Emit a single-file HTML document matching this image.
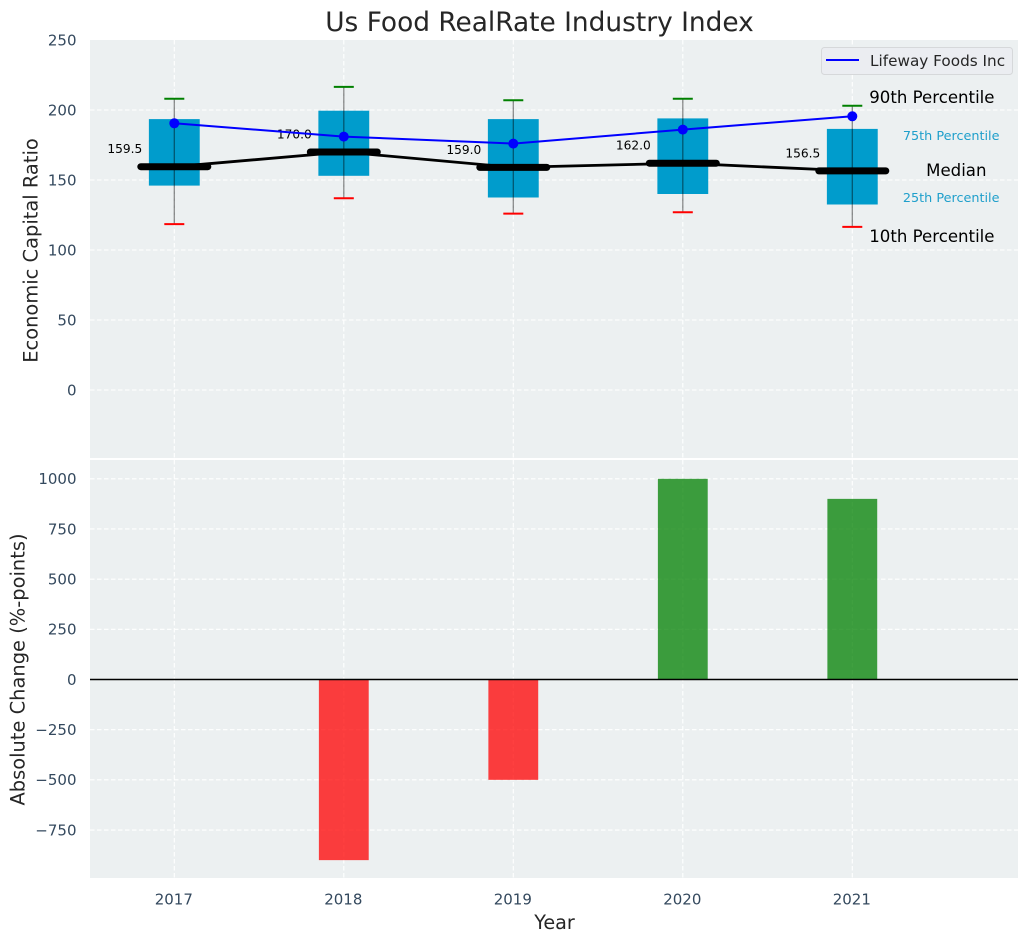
<!DOCTYPE html>
<html lang="en">
<head>
<meta charset="utf-8">
<title>Us Food RealRate Industry Index</title>
<style>
html,body{margin:0;padding:0;background:#fff;}
svg{display:block;font-family:"DejaVu Sans","Liberation Sans",sans-serif;}
</style>
</head>
<body>
<svg id="chart" width="1029" height="942" viewBox="0 0 1029 942" xmlns="http://www.w3.org/2000/svg">
  <rect x="0" y="0" width="1029" height="942" fill="#ffffff"/>
  <rect x="90" y="40" width="928" height="418" fill="#ecf0f1"/>
  <rect x="90" y="460" width="928" height="418" fill="#ecf0f1"/>
  <g id="grid"></g>
  <g id="bars"></g>
  <g id="boxes"></g>
  <g id="lines"></g>
  <g id="ticks"></g>
  <text x="539.5" y="31" font-size="26.4" fill="#262626" text-anchor="middle">Us Food RealRate Industry Index</text>
  <text transform="translate(37.5,250.5) rotate(-90)" font-size="19.45" fill="#262626" text-anchor="middle">Economic Capital Ratio</text>
  <text transform="translate(24.5,669.5) rotate(-90)" font-size="19.45" fill="#262626" text-anchor="middle">Absolute Change (%-points)</text>
  <text x="554.5" y="929" font-size="19.2" fill="#262626" text-anchor="middle">Year</text>
  <g>
    <rect x="821.5" y="47.5" width="191" height="27" rx="3" fill="#ebedf1" stroke="#d6d8da" stroke-width="1"/>
    <line x1="826" y1="60" x2="859" y2="60" stroke="#0000ff" stroke-width="2"/>
    <text x="870" y="66" font-size="15.25" fill="#262626">Lifeway Foods Inc</text>
  </g>
  <g text-anchor="end">
    <text x="994.5" y="103" font-size="16.6" fill="#000">90th Percentile</text>
    <text x="999.5" y="140" font-size="12.8" fill="#1f9fcb">75th Percentile</text>
    <text x="986.5" y="176" font-size="16.6" fill="#000">Median</text>
    <text x="999.5" y="202" font-size="12.8" fill="#1f9fcb">25th Percentile</text>
    <text x="994.5" y="242" font-size="16.6" fill="#000">10th Percentile</text>
  </g>
</svg>
<script>
const years = [2017, 2018, 2019, 2020, 2021];
const p90 = [208, 216.5, 207, 208, 203];
const p75 = [193.5, 199.5, 193.5, 194, 186.5];
const median = [159.5, 170, 159, 162, 156.5];
const p25 = [146, 153, 137.5, 140, 132.5];
const p10 = [118.5, 137, 126, 127, 116.5];
const company = [190.5, 181, 176, 186, 195.5];
const change = [0, -900, -500, 1000, 900];
const topTicks = [0, 50, 100, 150, 200, 250];
const bottomTicks = [-750, -500, -250, 0, 250, 500, 750, 1000];

const NS = 'http://www.w3.org/2000/svg';
const xScale = function (year) { return 174.3 + (year - 2017) * 169.5; };
const yTop = function (v) { return 390 - v * 1.4; };
const yBottom = function (v) { return 679.5 - v * 0.2007; };
const unitPx = 169.5;

function mk(tag, parentId, attrs) {
  const node = document.createElementNS(NS, tag);
  Object.keys(attrs).forEach(function (k) { node.setAttribute(k, attrs[k]); });
  document.getElementById(parentId).appendChild(node);
  return node;
}
function fmtTick(v) { return String(v).replace('-', '\u2212'); }

const gridStyle = { stroke: '#ffffff', 'stroke-width': 1.1, 'stroke-dasharray': '4.5 2.5', fill: 'none' };

topTicks.forEach(function (t) {
  if (t === 250) { return; }
  const g = mk('line', 'grid', Object.assign({ x1: 90, x2: 1018, y1: yTop(t), y2: yTop(t) }, gridStyle));
  
  
});
topTicks.forEach(function (t) {
  const label = mk('text', 'ticks', { x: 76.5, y: yTop(t) + 5.3, 'font-size': 15, fill: '#34495e', 'text-anchor': 'end' });
  
  
  label.textContent = fmtTick(t);
});
bottomTicks.forEach(function (t) {
  const g = mk('line', 'grid', Object.assign({ x1: 90, x2: 1018, y1: yBottom(t), y2: yBottom(t) }, gridStyle));
  
  
  const label = mk('text', 'ticks', { x: 76.5, y: yBottom(t) + 5.3, 'font-size': 15, fill: '#34495e', 'text-anchor': 'end' });
  
  
  label.textContent = fmtTick(t);
});
years.forEach(function (year) {
  const cx = xScale(year);
  const g1 = mk('line', 'grid', Object.assign({ x1: cx, x2: cx, y1: 40, y2: 458 }, gridStyle));
  
  
  const g2 = mk('line', 'grid', Object.assign({ x1: cx, x2: cx, y1: 460, y2: 878 }, gridStyle));
  
  
  const label = mk('text', 'ticks', { x: cx - 0.5, y: 904.5, 'font-size': 15, fill: '#34495e', 'text-anchor': 'middle' });
  
  
  label.textContent = String(year);
});

/* change bars */
years.forEach(function (year, i) {
  const cx = xScale(year);
  const v = change[i];
  if (v === 0) { return; }
  const y0 = yBottom(0);
  const y1 = yBottom(v);
  const bar = mk('rect', 'bars', {
    x: cx - 0.147 * unitPx,
    y: Math.min(y0, y1),
    width: 0.294 * unitPx,
    height: Math.abs(y1 - y0),
    fill: v < 0 ? '#ff0000' : '#008000',
    'fill-opacity': 0.75
  });
  
  
});
const zero = mk('line', 'bars', { x1: 90, x2: 1018, y1: yBottom(0), y2: yBottom(0), stroke: '#000', 'stroke-width': 1.4 });



/* percentile boxes */
years.forEach(function (year, i) {
  const cx = xScale(year);
  const box = mk('rect', 'boxes', {
    x: cx - 0.15 * unitPx,
    y: yTop(p75[i]),
    width: 0.3 * unitPx,
    height: yTop(p25[i]) - yTop(p75[i]),
    fill: '#009ccc'
  });
  
  
  const whisker = mk('line', 'boxes', { x1: cx, x2: cx, y1: yTop(p90[i]), y2: yTop(p10[i]), stroke: '#000', 'stroke-opacity': 0.45, 'stroke-width': 1.3 });
  
  
  const capHigh = mk('line', 'boxes', { x1: cx - 10, x2: cx + 10, y1: yTop(p90[i]), y2: yTop(p90[i]), stroke: '#008000', 'stroke-width': 2 });
  
  
  const capLow = mk('line', 'boxes', { x1: cx - 10, x2: cx + 10, y1: yTop(p10[i]), y2: yTop(p10[i]), stroke: '#ff0000', 'stroke-width': 2 });
  
  
});

/* median connector and company line */
const medianLine = mk('polyline', 'lines', {
  points: years.map(function (y, i) { return xScale(y) + ',' + yTop(median[i]); }).join(' '),
  fill: 'none', stroke: '#000', 'stroke-width': 2.8
});



years.forEach(function (year, i) {
  const cx = xScale(year);
  const bar = mk('line', 'lines', {
    x1: cx - 33.5, x2: cx + 33.5, y1: yTop(median[i]), y2: yTop(median[i]),
    stroke: '#000', 'stroke-width': 7, 'stroke-linecap': 'round'
  });
  
  
  const label = mk('text', 'lines', { x: cx - 32, y: yTop(median[i]) - 13.5, 'font-size': 12.2, fill: '#000', 'text-anchor': 'end' });
  
  
  label.textContent = median[i].toFixed(1);
});

const companyLine = mk('polyline', 'lines', {
  points: years.map(function (y, i) { return xScale(y) + ',' + yTop(company[i]); }).join(' '),
  fill: 'none', stroke: '#0000ff', 'stroke-width': 2
});



years.forEach(function (year, i) {
  const dot = mk('circle', 'lines', { cx: xScale(year), cy: yTop(company[i]), r: 5, fill: '#0000ff' });
  
  
});
</script>
</body>
</html>
